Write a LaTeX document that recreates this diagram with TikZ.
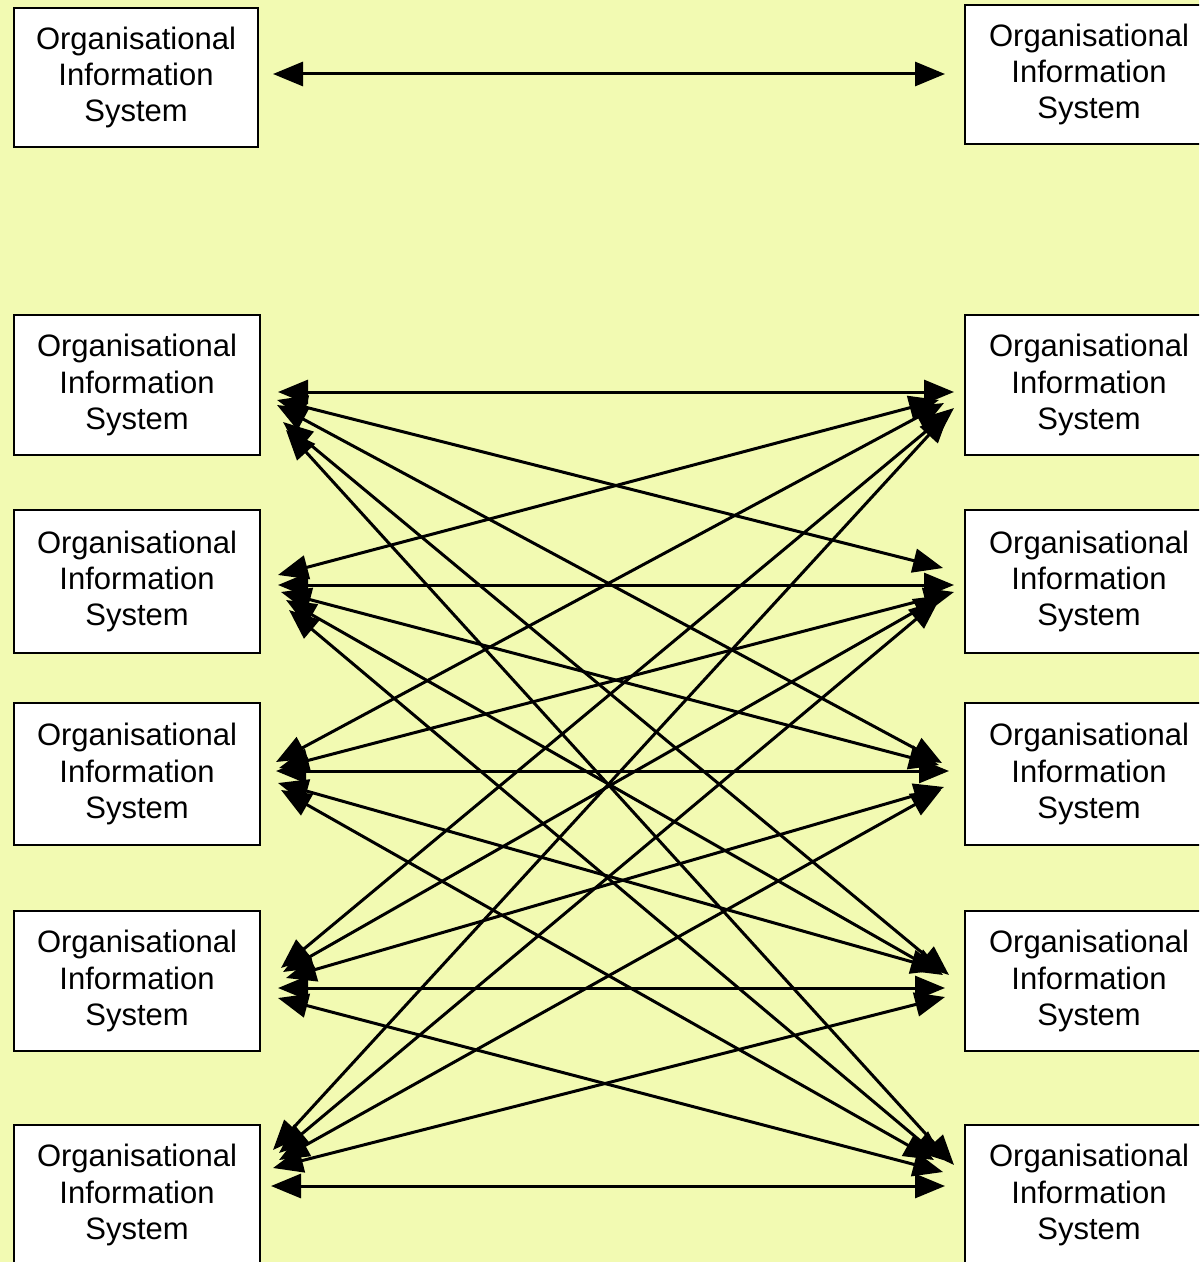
\documentclass[tikz,border=0pt]{standalone}
\usepackage{fontspec}
\setmainfont{Liberation Sans}
\usetikzlibrary{arrows.meta,calc}
\definecolor{paper}{RGB}{242,250,178}
\tikzset{
  sysbox/.style={draw=black, line width=1pt, fill=white, align=center,
    inner sep=0pt, minimum width=123pt, minimum height=70pt,
    font=\fontsize{15.5}{18.2}\selectfont},
  link/.style={line width=1.5pt, {Triangle[length=15pt,width=12pt]}-{Triangle[length=15pt,width=12pt]}}
}
\begin{document}
\begin{tikzpicture}[x=0.5pt, y=-0.5pt]
\fill[paper] (0,0) rectangle (1199,1262);
\useasboundingbox (0,0) rectangle (1199,1262);
\clip (0,0) rectangle (1199,1262);

% upper pair
\node[sysbox, minimum width=122pt, minimum height=69.5pt] (L1) at (136,77.5) {Organisational\\Information\\System};
\node[sysbox, minimum width=124pt, minimum height=69.5pt] (R1) at (1089,74.5) {Organisational\\Information\\System};

% two columns of five systems
\foreach \k/\cy/\h in {2/385/70, 3/581.5/71.5, 4/774/71, 5/981/70, 6/1195/70} {
  \node[sysbox, minimum height=\h pt] (L\k) at (137,\cy) {Organisational\\Information\\System};
  \node[sysbox, minimum width=124pt, minimum height=\h pt] (R\k) at (1089,\cy) {Organisational\\Information\\System};
}

% single link between the upper pair
\draw[link] ($(L1.east)+(14,-3.5)$) -- ($(R1.west)+(-19,-0.5)$);

% every left system linked with every right system
\foreach \i/\j/\ax/\ay/\bx/\by in {
  2/2/17/7/-10/7,
  2/3/16/15/-21/-13.5,
  2/4/16/20/-22/-11,
  2/5/22/37/-15/-6,
  2/6/25/45/-10/-30,
  3/2/17/-6.5/-25/15,
  3/3/17/3.5/-10/3.5,
  3/4/20/10.5/-25/-9,
  3/5/25/18.5/-21/-6,
  3/6/28/28.5/-21/-35,
  4/2/15/-12/-20/18,
  4/3/18/-6/-10/10.5,
  4/4/15/-3/-15/-3,
  4/5/17/9/-23/-11,
  4/6/20/16/-30/-35,
  5/2/20/-13/-10/23,
  5/3/22/-9/-20/13.5,
  5/4/25/-3/-20/13,
  5/5/17/7/-19/7,
  5/6/17/17/-21/-23,
  6/2/12/-45/-15/28,
  6/3/18/-42/-25/18.5,
  6/4/18/-35/-23/16,
  6/5/12/-27/-19/16,
  6/6/10/-9/-19/-9} {
  \draw[link] ($(L\i.east)+(\ax,\ay)$) -- ($(R\j.west)+(\bx,\by)$);
}
\end{tikzpicture}
\end{document}
